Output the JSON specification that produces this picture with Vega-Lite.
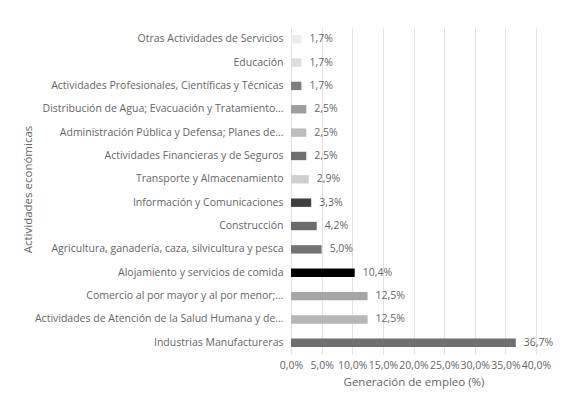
{
  "$schema": "https://vega.github.io/schema/vega-lite/v6.json",
  "width": 245,
  "height": 326,
  "autosize": {"type": "none"},
  "padding": {"left": 291, "top": 28, "right": 29, "bottom": 48},
  "background": "white",
  "config": {
    "font": "Open Sans",
    "view": {"stroke": null},
    "axis": {"labelColor": "#666666", "titleColor": "#666666", "labelFont": "Open Sans", "titleFont": "Open Sans", "titleFontWeight": "normal"}
  },
  "data": {
    "values": [
      {"actividad": "Otras Actividades de Servicios", "valor": 1.7},
      {"actividad": "Educación", "valor": 1.7},
      {"actividad": "Actividades Profesionales, Científicas y Técnicas", "valor": 1.7},
      {"actividad": "Distribución de Agua; Evacuación y Tratamiento…", "valor": 2.5},
      {"actividad": "Administración Pública y Defensa; Planes de…", "valor": 2.5},
      {"actividad": "Actividades Financieras y de Seguros", "valor": 2.5},
      {"actividad": "Transporte y Almacenamiento", "valor": 2.9},
      {"actividad": "Información y Comunicaciones", "valor": 3.3},
      {"actividad": "Construcción", "valor": 4.2},
      {"actividad": "Agricultura, ganadería, caza, silvicultura y pesca", "valor": 5.0},
      {"actividad": "Alojamiento y servicios de comida", "valor": 10.4},
      {"actividad": "Comercio al por mayor y al por menor;…", "valor": 12.5},
      {"actividad": "Actividades de Atención de la Salud Humana y de…", "valor": 12.5},
      {"actividad": "Industrias Manufactureras", "valor": 36.7}
    ]
  },
  "transform": [
    {"calculate": "replace(format(datum.valor, '.1f'), '.', ',') + '%'", "as": "etiqueta"}
  ],
  "encoding": {
    "y": {
      "field": "actividad",
      "type": "nominal",
      "sort": null,
      "scale": {"paddingInner": 0.64, "paddingOuter": 0.3},
      "axis": {
        "title": "Actividades económicas",
        "titleFontSize": 11.5,
        "titleX": -263,
        "titleY": 161,
        "titleAngle": -90,
        "titleAlign": "center",
        "titleBaseline": "middle",
        "labelFontSize": 10.5,
        "labelPadding": 8,
        "labelLimit": 300,
        "ticks": false,
        "domain": false
      }
    },
    "x": {
      "field": "valor",
      "type": "quantitative",
      "scale": {"domain": [0, 40]},
      "axis": {
        "title": "Generación de empleo (%)",
        "titleFontSize": 11.5,
        "titlePadding": 6,
        "values": [0, 5, 10, 15, 20, 25, 30, 35, 40],
        "labelExpr": "replace(format(datum.value, '.1f'), '.', ',') + '%'",
        "labelFontSize": 10.5,
        "labelPadding": 6,
        "ticks": false,
        "domain": false,
        "grid": true,
        "gridColor": "#e2e2e2",
        "labelFlush": false,
        "labelOverlap": false
      }
    }
  },
  "layer": [
    {
      "mark": {"type": "bar"},
      "encoding": {
        "color": {
          "field": "actividad",
          "type": "nominal",
          "legend": null,
          "scale": {
            "domain": [
              "Otras Actividades de Servicios",
              "Educación",
              "Actividades Profesionales, Científicas y Técnicas",
              "Distribución de Agua; Evacuación y Tratamiento…",
              "Administración Pública y Defensa; Planes de…",
              "Actividades Financieras y de Seguros",
              "Transporte y Almacenamiento",
              "Información y Comunicaciones",
              "Construcción",
              "Agricultura, ganadería, caza, silvicultura y pesca",
              "Alojamiento y servicios de comida",
              "Comercio al por mayor y al por menor;…",
              "Actividades de Atención de la Salud Humana y de…",
              "Industrias Manufactureras"
            ],
            "range": ["#ececec", "#dedede", "#7f7f7f", "#9e9e9e", "#bdbdbd", "#707070", "#cfcfcf", "#3f3f3f", "#6b6b6b", "#737373", "#000000", "#a6a6a6", "#b7b7b7", "#6f6f6f"]
          }
        }
      }
    },
    {
      "mark": {"type": "text", "align": "left", "dx": 8, "fontSize": 10.5, "color": "#666666", "font": "Open Sans"},
      "encoding": {
        "text": {"field": "etiqueta"}
      }
    }
  ]
}
